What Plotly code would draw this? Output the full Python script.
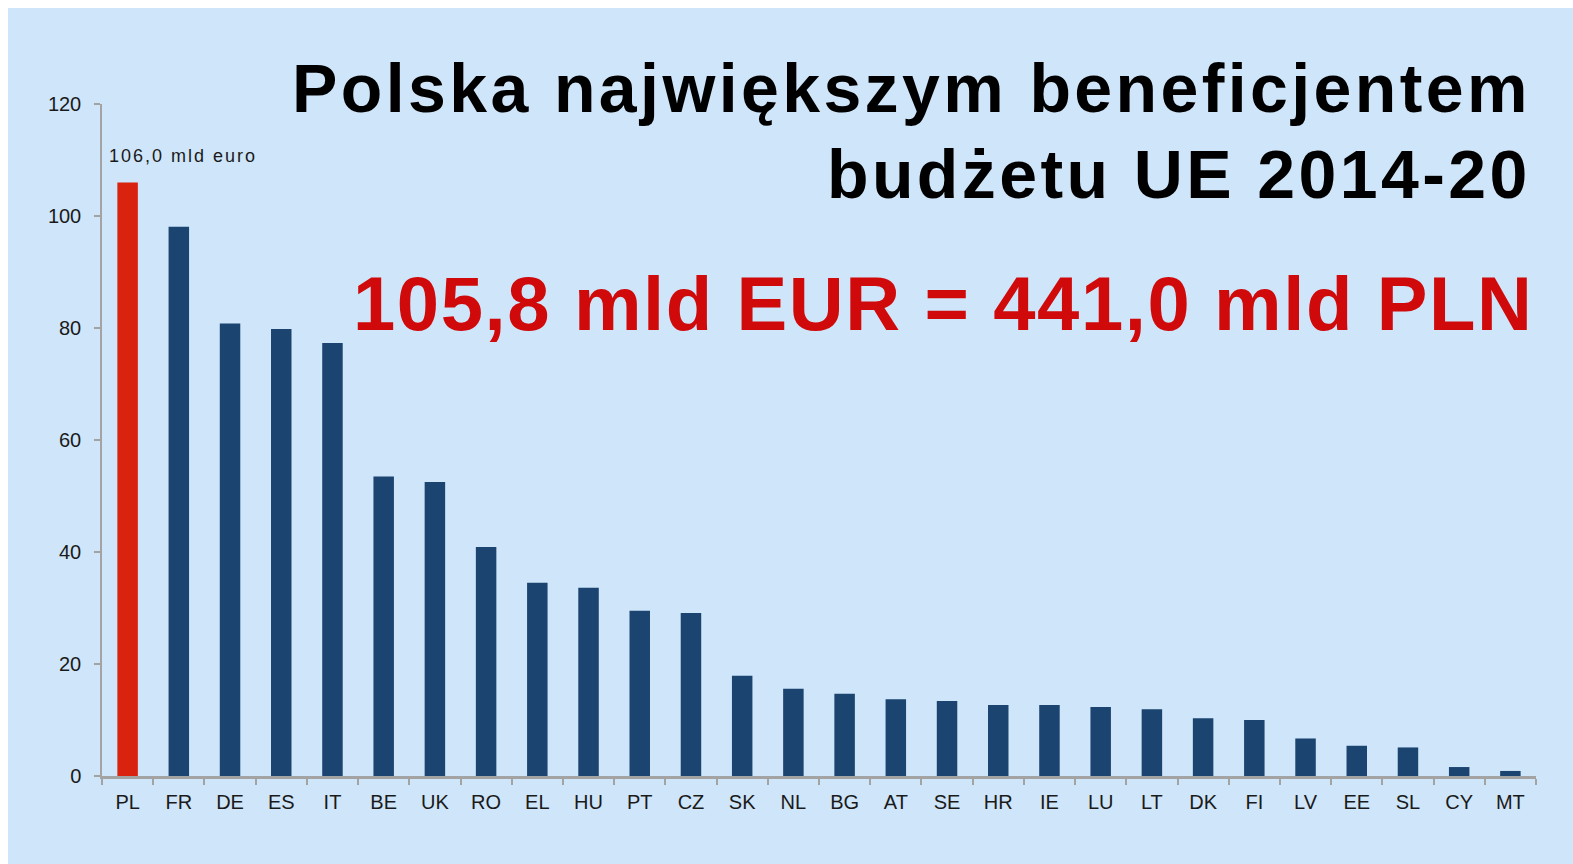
import plotly.graph_objects as go

# ---- data ----
countries = ["PL", "FR", "DE", "ES", "IT", "BE", "UK", "RO", "EL", "HU", "PT", "CZ", "SK", "NL",
             "BG", "AT", "SE", "HR", "IE", "LU", "LT", "DK", "FI", "LV", "EE", "SL", "CY", "MT"]
values = [106.0, 98.1, 80.8, 79.8, 77.3, 53.5, 52.5, 40.9, 34.5, 33.6, 29.5, 29.1, 17.9, 15.6,
          14.7, 13.7, 13.4, 12.7, 12.7, 12.3, 11.9, 10.3, 10.0, 6.7, 5.4, 5.1, 1.6, 0.9]
highlight = "PL"
y_ticks = [0, 20, 40, 60, 80, 100, 120]
title_line1 = "Polska największym beneficjentem"
title_line2 = "budżetu UE 2014-20"
subtitle = "105,8 mld EUR = 441,0 mld PLN"
bar_label = "106,0 mld euro"

# ---- style ----
OFF = 8  # page body margin
W, H = 1600, 880
ML, MT = 94, 96
PW, PH = 1434, 672
MR, MB = W - ML - PW, H - MT - PH
BG = "#cfe5f9"
NAVY = "#1b4470"
RED = "#d9230f"
AXIS = "#a3a3a3"
FONT = "Liberation Sans, Arial, sans-serif"
TXT = "#1a1a1a"


def px(x):
    return (x - OFF - ML) / PW


def py(y):
    return (MT + PH - (y - OFF)) / PH


def spaced(t, ls):
    return f"<span style='letter-spacing:{ls}px'>{t}</span>"


colors = [RED if c == highlight else NAVY for c in countries]

fig = go.Figure(go.Bar(x=countries, y=values, marker=dict(color=colors, line=dict(width=0)),
                       hoverinfo="x+y"))

annotations = [
    dict(text=spaced(title_line1, 3.4), xref="paper", yref="paper", x=px(1533), y=py(87.5),
         xanchor="right", yanchor="middle", showarrow=False,
         font=dict(family=FONT, size=68, color="#000000", weight="bold")),
    dict(text=spaced(title_line2, 3.4), xref="paper", yref="paper", x=px(1533), y=py(173.5),
         xanchor="right", yanchor="middle", showarrow=False,
         font=dict(family=FONT, size=68, color="#000000", weight="bold")),
    dict(text=spaced(subtitle, 1.6), xref="paper", yref="paper", x=px(1536), y=py(303),
         xanchor="right", yanchor="middle", showarrow=False,
         font=dict(family=FONT, size=76, color="#d00a0a", weight="bold")),
    dict(text=spaced(bar_label, 2), x=highlight, y=values[countries.index(highlight)],
         xref="x", yref="y", xanchor="left", yanchor="middle", xshift=-21, yshift=26,
         showarrow=False, font=dict(family=FONT, size=18, color=TXT)),
]

fig.update_layout(
    width=W, height=H,
    margin=dict(l=ML, r=MR, t=MT, b=MB, pad=0),
    paper_bgcolor=BG, plot_bgcolor=BG,
    showlegend=False,
    bargap=0.6,
    annotations=annotations,
    font=dict(family=FONT, color=TXT),
    xaxis=dict(type="category", categoryorder="array", categoryarray=countries,
               showline=True, linecolor=AXIS, linewidth=2.5,
               ticks="outside", tickson="boundaries", ticklen=6, tickcolor=AXIS, tickwidth=1.5,
               showgrid=False, zeroline=False, ticklabelstandoff=6,
               tickfont=dict(family=FONT, size=20, color=TXT)),
    yaxis=dict(range=[0, 120], tickvals=y_ticks, showline=True, linecolor=AXIS, linewidth=1.5,
               ticks="outside", ticklen=6, tickcolor=AXIS, tickwidth=1.5,
               showgrid=False, zeroline=False, ticklabelstandoff=9,
               tickfont=dict(family=FONT, size=20, color=TXT)),
)

page_bg = (
    "linear-gradient(#ffffff,#ffffff) left top / 100% 8px no-repeat,"
    "linear-gradient(#ffffff,#ffffff) left top / 8px 100% no-repeat,"
    + BG
)

fig.write_html(
    "out.html",
    post_script="document.documentElement.style.overflow='hidden';"
                "document.body.style.overflow='hidden';"
                f"document.documentElement.style.background='{page_bg}';"
                "document.documentElement.style.minHeight='100%';",
)
